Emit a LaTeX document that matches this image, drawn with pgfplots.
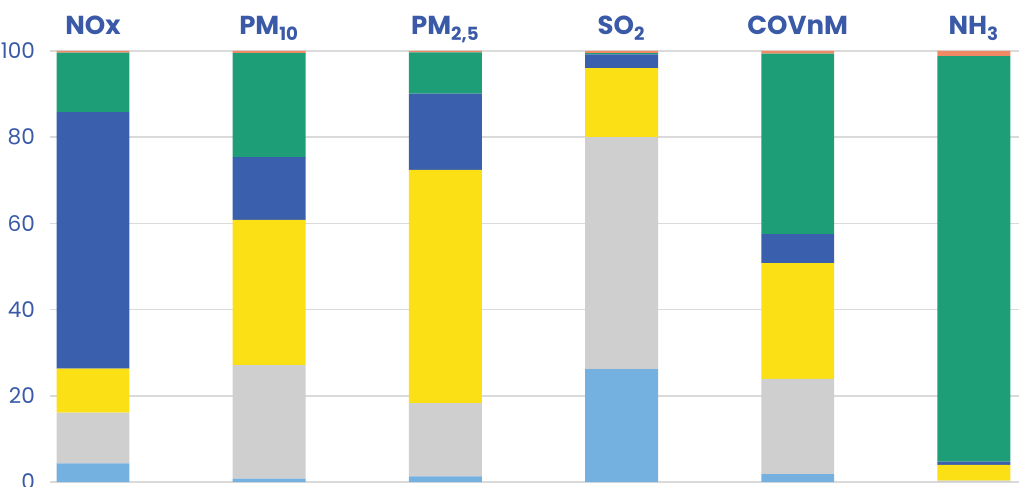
\documentclass[border=0pt]{standalone}
\usepackage{pgfplots}
\pgfplotsset{compat=1.18}
\usepackage{pgfplotstable}
\usepackage{fontspec}
\setmainfont{Poppins}

\definecolor{txtblue}{HTML}{3A5AA8}
\definecolor{cLight}{HTML}{74B0E0}
\definecolor{cGray}{HTML}{CFCFCF}
\definecolor{cYellow}{HTML}{FBE016}
\definecolor{cDark}{HTML}{3A5FAD}
\definecolor{cGreen}{HTML}{1E9E77}
\definecolor{cSalmon}{HTML}{F08A64}
\definecolor{gridc}{HTML}{DADADA}

% shares by pollutant (0=NOx ... 5=NH3)
\pgfplotstableread{
x  light  gray   yellow dark  green salmon
0  4.3    11.8   10.2   59.5  13.8  0.4
1  0.8    26.3   33.7   14.6  24.1  0.5
2  1.3    17.0   54.1   17.7  9.6   0.3
3  26.2   53.8   16.0   3.2   0.3   0.5
4  1.8    22.1   26.9   6.7   41.9  0.6
5  0.0    0.3    3.7    0.7   94.1  1.2
}\emis

\begin{document}
\begin{tikzpicture}
\begin{axis}[
  scale only axis,
  width=484.5pt, height=215.5pt,
  ybar stacked, bar width=0.414,
  xmin=-0.244, xmax=5.256,
  ymin=0, ymax=100,
  axis line style={draw=none},
  major tick length=0,
  ytick={0,20,...,100},
  ymajorgrids, grid style={gridc, line width=0.8pt},
  xtick=data,
  xticklabels={NOx, PM\textsubscript{10}, PM\textsubscript{2,5}, SO\textsubscript{2}, COVnM, NH\textsubscript{3}},
  xticklabel pos=upper,
  x tick label style={font=\fontsize{13}{15}\selectfont\bfseries, text=txtblue, anchor=base, yshift=8pt},
  y tick label style={font=\fontsize{10.8}{13}\selectfont, text=txtblue, anchor=east, xshift=-4pt},
  /pgf/number format/assume math mode=true,
]
\addplot[fill=cLight, draw=none] table[x=x, y=light] {\emis};
\addplot[fill=cGray, draw=none] table[x=x, y=gray] {\emis};
\addplot[fill=cYellow, draw=none] table[x=x, y=yellow] {\emis};
\addplot[fill=cDark, draw=none] table[x=x, y=dark] {\emis};
\addplot[fill=cGreen, draw=none] table[x=x, y=green] {\emis};
\addplot[fill=cSalmon, draw=none] table[x=x, y=salmon] {\emis};
\end{axis}
\pgfresetboundingbox
\path[use as bounding box] ([shift={(-25pt,-2pt)}]current axis.south west) rectangle ([shift={(0pt,25.5pt)}]current axis.north east);
\end{tikzpicture}
\end{document}
